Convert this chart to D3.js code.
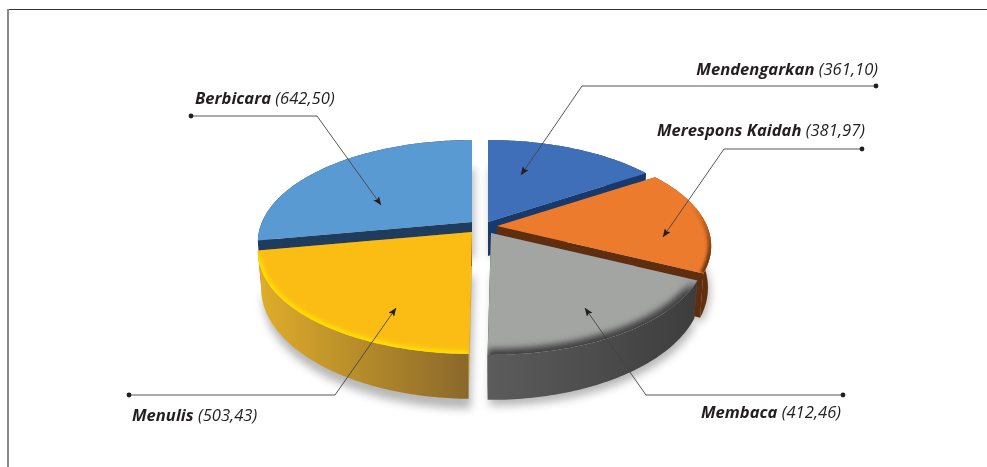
<!DOCTYPE html>
<html><head><meta charset="utf-8">
<script src="https://cdn.jsdelivr.net/npm/d3@7"></script>
<style>html,body{margin:0;background:#fff}svg{display:block}
text{font-family:"Open Sans",sans-serif;font-size:16.6px;font-style:italic;fill:#231f20}</style>
</head><body><svg id="c" width="987" height="467"></svg>
<script>
// data
const categories = ["Mendengarkan","Merespons Kaidah","Membaca","Menulis","Berbicara"];
const values = [361.10,381.97,412.46,503.43,642.50];
const valueLabels = ["361,10","381,97","412,46","503,43","642,50"];
// styles
const topColors = ["#3f6fb9","#ec7b2e","#a3a5a3","#fbbd13","#5a9ad3"];
const wallColors = [["#17396b","#17396b"],["#6a3410","#5e2e0e"],["#5c5c5c","#3d3d3d"],["#e0ad2a","#8a682b"],["#1f3c5c","#1f3c5c"]];
const rimColors = [null,"#6f370f","#3f3f3f","#ffe300",null];
const rimWidths = [0,7,12,6,0];
const rimBlur = [0,1.6,3,2,0];
// layout of the exploded slices (apex on the page)
const apexX = [488,497,491,472,472];
const apexY = [222,226,233,232,222];
const depthExtra = [0,6,0,0,0];
const drawOrder = [0,4,1,3,2];
const shadowDy = [2,4,6,10,2];
const R = 210, Ry = 98, P = 0.196;
// leader lines: dot, elbow, arrow tip, label anchor
const leaders = [
 {dot:[876,86], elbow:[582,86], tip:[521,175], label:[878,75], anchor:"end"},
 {dot:[862,149],elbow:[724,149],tip:[663,237], label:[865,136],anchor:"end"},
 {dot:[843,395],elbow:[646,395],tip:[585,308], label:[841,418],anchor:"end"},
 {dot:[129,395],elbow:[335,395],tip:[396,308], label:[132,421],anchor:"start"},
 {dot:[191,116],elbow:[317,116],tip:[381,205], label:[195,104],anchor:"start"}
];

const svg = d3.select("#c");
const defs = svg.append("defs");
const arrow = defs.append("marker").attr("id","arr").attr("viewBox","0 0 10 8").attr("refX",9.5).attr("refY",4)
 .attr("markerWidth",9).attr("markerHeight",7).attr("markerUnits","userSpaceOnUse").attr("orient","auto");
arrow.append("path").attr("d","M0,0L10,4L0,8L2,4Z").attr("fill","#231f20");
const sh = defs.append("filter").attr("id","shadow").attr("filterUnits","userSpaceOnUse").attr("x",0).attr("y",0).attr("width",987).attr("height",467);
sh.append("feGaussianBlur").attr("stdDeviation",4);
[1,2,3].forEach(i=>{
  const f = defs.append("filter").attr("id","soft"+i).attr("filterUnits","userSpaceOnUse").attr("x",0).attr("y",0).attr("width",987).attr("height",467);
  f.append("feGaussianBlur").attr("stdDeviation",rimBlur[i]);
});

// frame
svg.append("line").attr("x1",7).attr("x2",987).attr("y1",9.5).attr("y2",9.5).attr("stroke","#333").attr("stroke-width",1);
svg.append("line").attr("x1",8).attr("x2",8).attr("y1",9).attr("y2",467).attr("stroke","#8a8a8a").attr("stroke-width",2);

const pieData = d3.pie().sort(null).value(d=>d)(values);
const line = d3.line();
function topPt(i,a){ const X=Math.sin(a),Y=-Math.cos(a),s=1/(1-P*Y);
  return [apexX[i]+R*X*s, apexY[i]+Ry*Y*s]; }
function low(i,p){ return [apexX[i]+(p[0]-apexX[i])*0.985, apexY[i]+34+depthExtra[i]+(p[1]-apexY[i])*1.09]; }
function arcPts(i,d){ const n=Math.ceil((d.endAngle-d.startAngle)*60);
  return d3.range(n+1).map(k=>topPt(i,d.startAngle+(d.endAngle-d.startAngle)*k/n)); }

const gShadow = svg.append("g").attr("filter","url(#shadow)").attr("opacity",.42);
const gPie = svg.append("g");

drawOrder.forEach(i=>{
  const d = pieData[i], arc = arcPts(i,d), apex=[apexX[i],apexY[i]];
  const face = line([apex,...arc])+"Z";
  const lowArc = arc.map(p=>low(i,p));
  const wall = line([...arc,...lowArc.slice().reverse()])+"Z";
  const startFace = line([apex,arc[0],lowArc[0],low(i,apex)])+"Z";
  const endFace = line([apex,arc[arc.length-1],lowArc[lowArc.length-1],low(i,apex)])+"Z";
  const gx = d3.extent(arc,p=>p[0]);
  const grad = defs.append("linearGradient").attr("id","w"+i).attr("gradientUnits","userSpaceOnUse")
     .attr("x1",gx[0]).attr("x2",gx[1]).attr("y1",0).attr("y2",0);
  grad.append("stop").attr("offset",0).attr("stop-color",wallColors[i][0]);
  grad.append("stop").attr("offset",1).attr("stop-color",wallColors[i][1]);
  defs.append("clipPath").attr("id","f"+i).append("path").attr("d",face);
  gShadow.append("path").attr("d",line([low(i,apex),...lowArc])+"Z").attr("fill","#555").attr("transform",`translate(2,${shadowDy[i]})`);
  const g = gPie.append("g").attr("class","slice");
  g.append("path").attr("d",startFace).attr("fill",wallColors[i][0]);
  g.append("path").attr("d",endFace).attr("fill",wallColors[i][1]);
  g.append("path").attr("d",wall).attr("fill",`url(#w${i})`);
  g.append("path").attr("d",face).attr("fill",topColors[i]);
  if(rimColors[i]){
    // rim shading fades out towards the back of the slice
    const ys = d3.extent(arc,p=>p[1]);
    const rg = defs.append("linearGradient").attr("id","r"+i).attr("gradientUnits","userSpaceOnUse")
      .attr("x1",0).attr("x2",0).attr("y1",i===1?205:ys[0]).attr("y2",i===1?255:ys[0]+12);
    rg.append("stop").attr("offset",0).attr("stop-color",rimColors[i]).attr("stop-opacity",0);
    rg.append("stop").attr("offset",1).attr("stop-color",rimColors[i]).attr("stop-opacity",1);
    g.append("g").attr("clip-path",`url(#f${i})`).append("path").attr("d",line(arc)).attr("fill","none")
      .attr("stroke",`url(#r${i})`).attr("stroke-width",rimWidths[i]).attr("filter",`url(#soft${i})`);
  }
});

// leaders
const gL = svg.append("g");
leaders.forEach((l,i)=>{
  gL.append("path").attr("d",line([l.dot,l.elbow,l.tip])).attr("fill","none").attr("stroke","#444").attr("stroke-width",.9).attr("marker-end","url(#arr)");
  gL.append("circle").attr("cx",l.dot[0]).attr("cy",l.dot[1]).attr("r",2.4).attr("fill","#231f20");
  const t = gL.append("text").attr("x",l.label[0]).attr("y",l.label[1]).attr("text-anchor",l.anchor);
  t.append("tspan").attr("font-weight",700).text(categories[i]+" ");
  t.append("tspan").attr("font-weight",400).text(`(${valueLabels[i]})`);
});
</script></body></html>
